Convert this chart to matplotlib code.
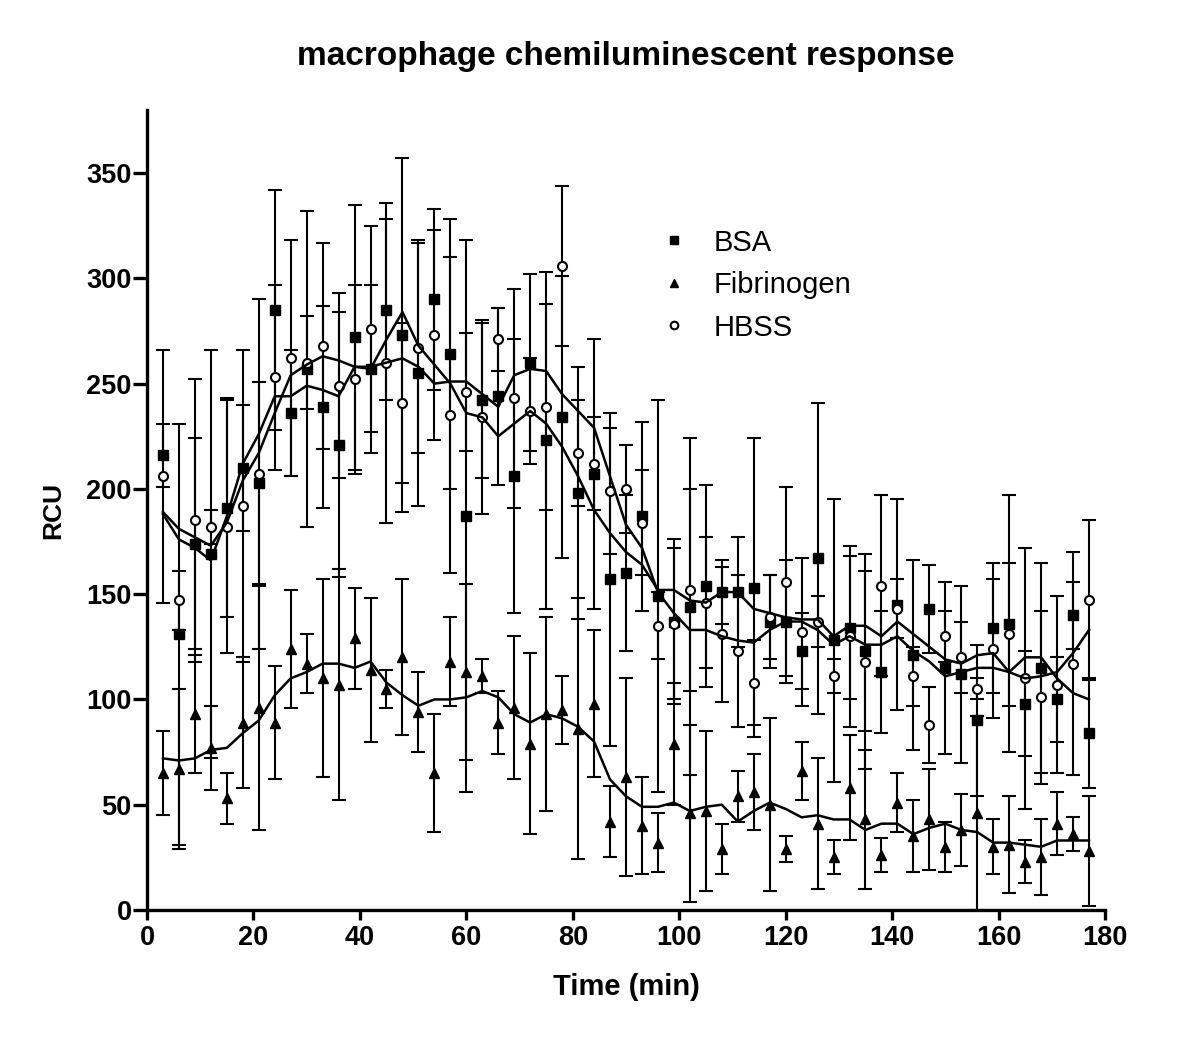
import numpy as np
import matplotlib
matplotlib.use('Agg')
import matplotlib.pyplot as plt
from matplotlib.lines import Line2D

plt.rcParams['font.family'] = ['Liberation Sans', 'DejaVu Sans']

# ── data ─────────────────────────────────────────────────────────────────────
time = [3, 6, 9, 12, 15, 18, 21, 24, 27, 30, 33, 36, 39, 42, 45, 48, 51, 54, 57, 60,
        63, 66, 69, 72, 75, 78, 81, 84, 87, 90, 93, 96, 99, 102, 105, 108, 111, 114, 117, 120,
        123, 126, 129, 132, 135, 138, 141, 144, 147, 150, 153, 156, 159, 162, 165, 168, 171, 174, 177]

bsa = [216, 131, 174, 169, 191, 210, 203, 285, 236, 257, 239, 221, 272, 257, 285, 273, 255, 290, 264, 187,
       242, 244, 206, 260, 223, 234, 198, 207, 157, 160, 187, 149, 137, 144, 154, 151, 151, 153, 137, 137,
       123, 167, 128, 134, 123, 113, 145, 121, 143, 115, 112, 90, 134, 136, 98, 115, 100, 140, 84]
bsa_err = [15, 100, 50, 97, 52, 30, 48, 57, 30, 75, 48, 63, 63, 40, 43, 84, 63, 43, 64, 131,
           37, 42, 65, 42, 80, 67, 60, 64, 79, 37, 45, 93, 39, 80, 48, 15, 26, 71, 22, 29,
           18, 74, 67, 34, 38, 29, 50, 45, 21, 41, 42, 36, 31, 61, 25, 50, 20, 16, 26]

fib = [65, 67, 93, 77, 53, 89, 96, 89, 124, 117, 110, 107, 129, 114, 105, 120, 94, 65, 118, 113,
       111, 89, 96, 79, 93, 95, 86, 98, 42, 63, 40, 32, 79, 46, 47, 29, 54, 56, 50, 29,
       66, 41, 25, 58, 43, 26, 51, 35, 43, 30, 38, 46, 30, 31, 23, 25, 41, 36, 28]
fib_err = [20, 38, 28, 20, 12, 31, 58, 27, 28, 14, 47, 55, 24, 34, 9, 37, 19, 28, 21, 42,
           8, 15, 34, 43, 46, 16, 62, 35, 17, 47, 23, 14, 29, 42, 38, 12, 12, 18, 41, 6,
           14, 31, 8, 25, 33, 8, 14, 17, 24, 12, 17, 46, 13, 23, 10, 18, 15, 8, 26]

hbss = [206, 147, 185, 182, 182, 192, 207, 253, 262, 260, 268, 249, 252, 276, 260, 241, 267, 273, 235, 246,
        234, 271, 243, 237, 239, 306, 217, 212, 199, 200, 184, 135, 136, 152, 146, 131, 123, 108, 139, 156,
        132, 137, 111, 130, 118, 154, 143, 111, 88, 130, 120, 105, 124, 131, 110, 101, 107, 117, 147]
hbss_err = [60, 14, 67, 8, 60, 74, 83, 44, 56, 22, 49, 44, 45, 49, 76, 38, 50, 50, 75, 28,
            46, 15, 52, 25, 49, 38, 25, 22, 30, 21, 25, 16, 36, 48, 31, 32, 36, 20, 20, 45,
            35, 12, 8, 43, 51, 43, 14, 14, 18, 12, 17, 5, 33, 34, 62, 41, 42, 53, 38]

# smoothed curves drawn through each series
bsa_fit = [188, 176, 172, 166, 187, 212, 226, 244, 244, 249, 247, 244, 258, 257, 271, 284, 268, 259, 250, 236,
           234, 225, 231, 237, 231, 220, 206, 190, 179, 170, 164, 152, 152, 147, 146, 151, 151, 143, 141, 139,
           138, 138, 130, 135, 135, 130, 137, 131, 125, 119, 117, 121, 122, 113, 120, 120, 110, 103, 100]
hbss_fit = [189, 181, 177, 173, 184, 204, 217, 236, 254, 259, 263, 261, 258, 258, 260, 262, 258, 250, 251, 251,
            245, 239, 254, 257, 256, 245, 237, 229, 206, 183, 172, 151, 141, 133, 133, 130, 128, 127, 133, 137,
            137, 133, 126, 130, 126, 126, 130, 123, 118, 111, 113, 115, 115, 113, 110, 111, 113, 122, 133]
fib_fit = [72, 71, 72, 76, 77, 84, 90, 102, 110, 113, 117, 117, 115, 118, 108, 102, 97, 100, 100, 101,
           104, 101, 93, 89, 93, 91, 87, 80, 62, 54, 49, 49, 51, 47, 49, 50, 42, 47, 51, 48,
           44, 45, 43, 43, 38, 41, 41, 36, 39, 41, 38, 37, 32, 32, 31, 30, 33, 33, 33]

x_ticks = [0, 20, 40, 60, 80, 100, 120, 140, 160, 180]
y_ticks = [0, 50, 100, 150, 200, 250, 300, 350]

# ── figure ───────────────────────────────────────────────────────────────────
fig = plt.figure(figsize=(12, 10.37), dpi=100)
ax = fig.add_axes([0.1225, 0.1225, 0.7983, 0.7715])

eb = dict(color='black', ecolor='black', elinewidth=1.5, capsize=5, capthick=1.5, linestyle='none')
ax.errorbar(time, bsa, yerr=bsa_err, fmt='s', ms=7, mfc='black', mec='black', **eb)
ax.errorbar(time, fib, yerr=fib_err, fmt='^', ms=7, mfc='black', mec='black', **eb)
ax.errorbar(time, hbss, yerr=hbss_err, fmt='o', ms=6.5, mfc='white', mec='black', mew=1.5, **eb)

for fit in (bsa_fit, hbss_fit, fib_fit):
    ax.plot(time, fit, color='black', lw=1.8, zorder=3)

ax.set_xlim(0, 180)
ax.set_ylim(0, 380)
ax.set_xticks(x_ticks)
ax.set_yticks(y_ticks)
for s in ('top', 'right'):
    ax.spines[s].set_visible(False)
for s in ('left', 'bottom'):
    ax.spines[s].set_linewidth(2.4)
ax.tick_params(direction='out', width=2.4, labelsize=19.5)
ax.tick_params(axis='x', length=7, pad=4)
ax.tick_params(axis='y', length=10, pad=1)
for lab in ax.get_xticklabels() + ax.get_yticklabels():
    lab.set_fontweight('bold')

ax.set_xlabel('Time (min)', fontsize=21, fontweight='bold', labelpad=16)
ax.set_ylabel('RCU', fontsize=19, fontweight='bold', labelpad=15)
ax.set_title('macrophage chemiluminescent response', fontsize=24, fontweight='bold', pad=32)

handles = [
    Line2D([], [], marker='s', ls='none', ms=6, mfc='black', mec='black'),
    Line2D([], [], marker='^', ls='none', ms=6, mfc='black', mec='black'),
    Line2D([], [], marker='o', ls='none', ms=5.5, mfc='white', mec='black', mew=1.5),
]
ax.legend(handles, ['BSA', 'Fibrinogen', 'HBSS'], loc='upper left',
          bbox_to_anchor=(0.52, 0.87), frameon=False, fontsize=21,
          handlelength=1.0, handletextpad=0.85, labelspacing=0.5, borderpad=0)

fig.savefig('out.png', dpi=100)
